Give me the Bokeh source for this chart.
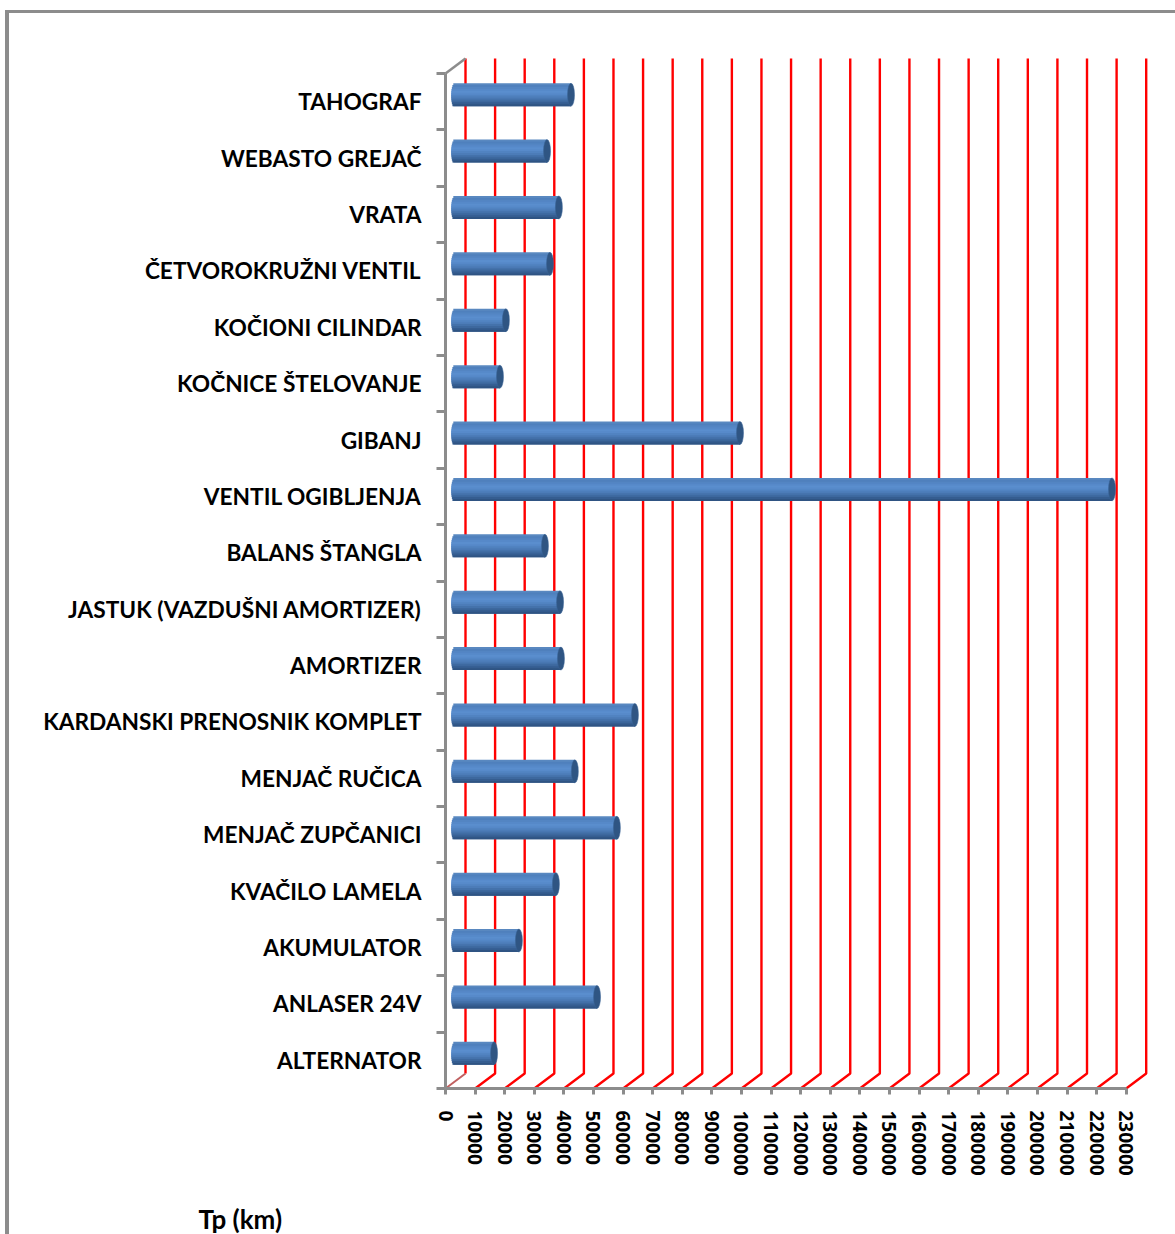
import math
from bokeh.embed import file_html
from bokeh.resources import INLINE
from bokeh.plotting import figure
from bokeh.models import LinearAxis, FixedTicker, Label, Range1d

categories = ["ALTERNATOR", "ANLASER 24V", "AKUMULATOR", "KVAČILO LAMELA", "MENJAČ ZUPČANICI",
              "MENJAČ RUČICA", "KARDANSKI PRENOSNIK KOMPLET", "AMORTIZER",
              "JASTUK (VAZDUŠNI AMORTIZER)", "BALANS ŠTANGLA", "VENTIL OGIBLJENJA", "GIBANJ",
              "KOČNICE ŠTELOVANJE", "KOČIONI CILINDAR", "ČETVOROKRUŽNI VENTIL", "VRATA",
              "WEBASTO GREJAČ", "TAHOGRAF"]
values = [13300, 48100, 21700, 34200, 54800, 40600, 60900, 35900, 35600, 30500, 222100, 96400,
          15300, 17300, 32200, 35200, 31200, 39300]
x_ticks = list(range(0, 230001, 10000))

# page geometry
PAGE_LEFT, PAGE_TOP = 5, 10
BORDER_L, BORDER_T = 4, 3
ORIGIN_X, ORIGIN_Y = 445, 1088      # page px of the front axes origin
W, H = 1175 - PAGE_LEFT, 1234 - PAGE_TOP
X_MAX, Y_MAX = 230000, len(categories)
PX_X = 680.7 / X_MAX
PX_Y = 1015.0 / Y_MAX
DEPTH_X = 20 / PX_X
DEPTH_Y = 15 / PX_Y
LEFT_PX = ORIGIN_X - PAGE_LEFT - BORDER_L
TOP_PX = ORIGIN_Y - PAGE_TOP - BORDER_T

p = figure(width=W, height=H, output_backend="svg", toolbar_location=None,
           x_axis_type=None, y_axis_type=None,
           x_range=Range1d(-LEFT_PX / PX_X, (W - LEFT_PX) / PX_X),
           y_range=Range1d(-(H - TOP_PX) / PX_Y, TOP_PX / PX_Y),
           min_border=0,
           outline_line_color=None, background_fill_color="white", border_fill_color="white")
p.grid.visible = False
p.styles = {"position": "absolute", "left": f"{PAGE_LEFT}px", "top": f"{PAGE_TOP}px",
            "border-left": f"{BORDER_L}px solid #8c8c8c", "border-top": f"{BORDER_T}px solid #8c8c8c"}

GREY = "#8c8c8c"
RED = "#ff0000"

# wall and floor gridlines
p.multi_line(xs=[[t, t + DEPTH_X, t + DEPTH_X] for t in x_ticks[1:]],
             ys=[[0, DEPTH_Y, Y_MAX + DEPTH_Y]] * len(x_ticks[1:]),
             line_color=RED, line_width=2.4)
p.line([DEPTH_X, DEPTH_X], [DEPTH_Y, Y_MAX + DEPTH_Y], line_color=RED, line_width=2.4)
p.line([0, DEPTH_X], [0, DEPTH_Y], line_color="#c06060", line_width=2)
p.line([0, DEPTH_X], [Y_MAX, Y_MAX + DEPTH_Y], line_color=GREY, line_width=2.5)

# cylinders
BAR_H = 23 / PX_Y
RX = 3.5 / PX_X
OFF_X = 9.2 / PX_X
OFF_Y = 7.0 / PX_Y
stops = [(0.0, (0x5f, 0x8c, 0xc2)), (0.12, (0x4f, 0x80, 0xbd)), (0.4, (0x5b, 0x8f, 0xd0)),
         (0.65, (0x4a, 0x7a, 0xb5)), (0.85, (0x37, 0x60, 0x94)), (1.0, (0x2c, 0x4f, 0x7d))]


def colour(f):
    for (a, ca), (b, cb) in zip(stops, stops[1:]):
        if f <= b:
            k = (f - a) / (b - a)
            return "#%02x%02x%02x" % tuple(round(x + (y - x) * k) for x, y in zip(ca, cb))
    return "#2c4f7d"


N = 12
centers = [i + 0.5 + OFF_Y for i in range(len(categories))]
for s in range(N):
    f = (s + 0.5) / N
    t = 2 * f - 1
    prof = math.sqrt(max(0, 1 - t * t))
    tops = [c + BAR_H / 2 - s / N * BAR_H for c in centers]
    # each band runs on beneath the next one, so that no seam shows
    bottoms = [c + BAR_H / 2 - min(1, (s + 2) / N) * BAR_H for c in centers]
    p.quad(top=tops, bottom=bottoms, left=[OFF_X - RX * prof] * len(values),
           right=[v + OFF_X for v in values], fill_color=colour(f), line_color=None)
p.ellipse(x=[v + OFF_X for v in values], y=centers, width=2 * RX, height=BAR_H,
          fill_color="#2f5583", line_color="#3a6496", line_width=0.5)

# axes
yax = LinearAxis(bounds=(0, Y_MAX), fixed_location=0,
                 ticker=FixedTicker(ticks=[i + 0.5 for i in range(len(categories))],
                                    minor_ticks=list(range(len(categories) + 1))),
                 major_label_overrides={i + 0.5: c for i, c in enumerate(categories)},
                 major_tick_out=0, major_tick_in=0, minor_tick_out=9, minor_tick_in=0,
                 minor_tick_line_color=GREY, minor_tick_line_width=3,
                 axis_line_color=GREY, axis_line_width=3,
                 major_label_standoff=15, major_label_text_font="Lato",
                 major_label_text_font_style="bold", major_label_text_font_size="22.7px",
                 major_label_text_color="#000000")
p.add_layout(yax, "left")

xax = LinearAxis(bounds=(0, X_MAX), fixed_location=0, ticker=FixedTicker(ticks=x_ticks),
                 major_label_overrides={t: str(t) for t in x_ticks},
                 major_tick_out=6, major_tick_in=0, minor_tick_out=0, minor_tick_in=0,
                 major_tick_line_color=GREY, major_tick_line_width=3,
                 axis_line_color=GREY, axis_line_width=3,
                 major_label_standoff=16, major_label_orientation="vertical",
                 major_label_text_font="Open Sans", major_label_text_font_style="bold",
                 major_label_text_font_size="19px", major_label_text_color="#000000")
p.add_layout(xax, "below")

p.add_layout(Label(x=(198 - ORIGIN_X) / PX_X, y=(ORIGIN_Y - 1218) / PX_Y, text="Tp (km)",
                   text_font="Lato", text_font_style="bold", text_font_size="26px",
                   text_color="#000000", text_baseline="middle", text_align="left"))

open("out.html", "w").write(file_html(p, INLINE))
